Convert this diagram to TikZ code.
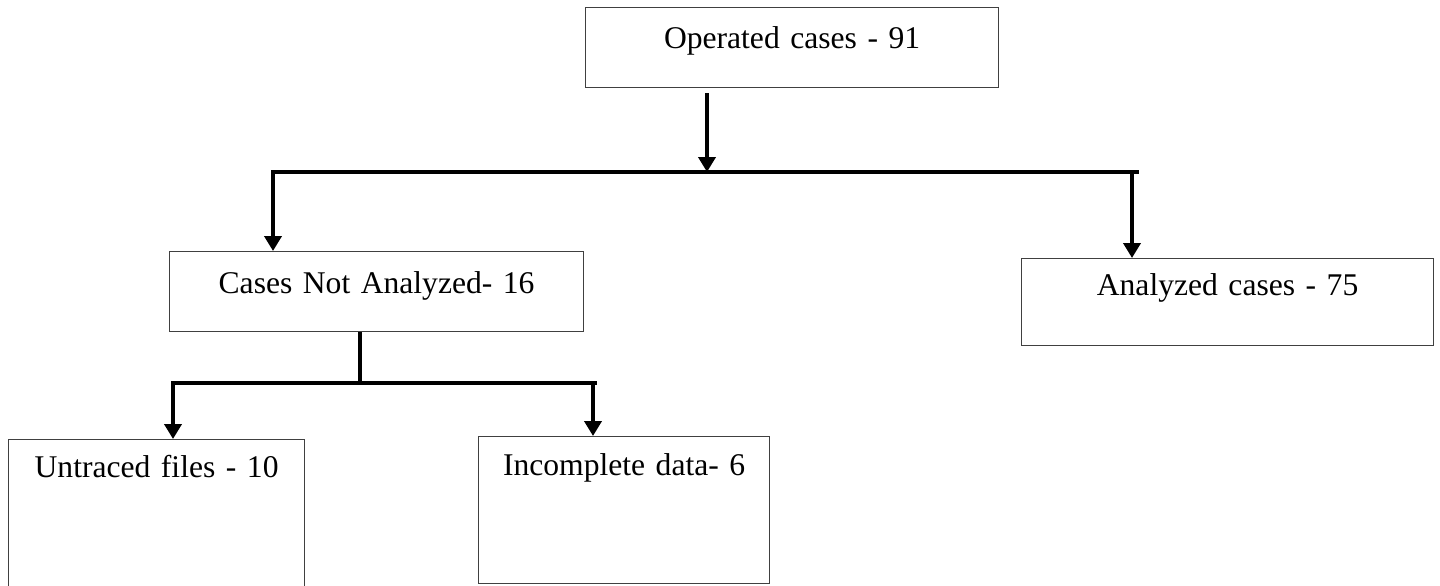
\documentclass[tikz,border=0pt]{standalone}
\usepackage{fontspec}
\setmainfont{Liberation Serif}
\usetikzlibrary{arrows.meta}
\begin{document}
\begin{tikzpicture}[x=0.5pt,y=-0.5pt,
  box/.style={draw=black!75, line width=0.6pt, inner sep=0pt, align=center, anchor=north west,
              font=\fontsize{15.8}{19}\selectfont},
  conn/.style={line width=2pt},
  arr/.style={line width=2pt,-{Triangle[width=8.5pt,length=7.5pt]}}]
\useasboundingbox (0,0) rectangle (1440,585);
\node[box, text width=206.5pt, text height=20.5pt, text depth=19.5pt] (A) at (585,7) {Operated cases - 91};
\node[box, text width=207pt, text height=21pt, text depth=19pt] (B) at (169,251) {Cases Not Analyzed- 16};
\node[box, text width=206pt, text height=18.5pt, text depth=25pt] (C) at (1021,258) {Analyzed cases - 75};
\node[box, text width=148pt, text height=19pt, text depth=55pt] (D) at (8,439) {Untraced files - 10};
\node[box, text width=145.5pt, text height=19.5pt, text depth=54pt] (E) at (478,436) {Incomplete data- 6};
% first level
\coordinate (a1) at (707,93);
\coordinate (h1) at (707,172);
\coordinate (h1l) at (271,172);
\coordinate (h1r) at (1139,172);
\draw[arr] (a1) -- (h1);
\draw[conn] (h1l) -- (h1r);
\coordinate (b1) at (273,170);
\draw[arr] (b1) -- (b1 |- B.north);
\coordinate (c1) at (1132,170);
\draw[arr] (c1) -- (c1 |- C.north);
% second level
\coordinate (m) at (360,383);
\draw[conn] (m |- B.south) -- (m);
\coordinate (h2l) at (171,383);
\coordinate (h2r) at (597,383);
\draw[conn] (h2l) -- (h2r);
\coordinate (d1) at (173,381);
\draw[arr] (d1) -- (d1 |- D.north);
\coordinate (e1) at (593,381);
\draw[arr] (e1) -- (e1 |- E.north);
\end{tikzpicture}
\end{document}
